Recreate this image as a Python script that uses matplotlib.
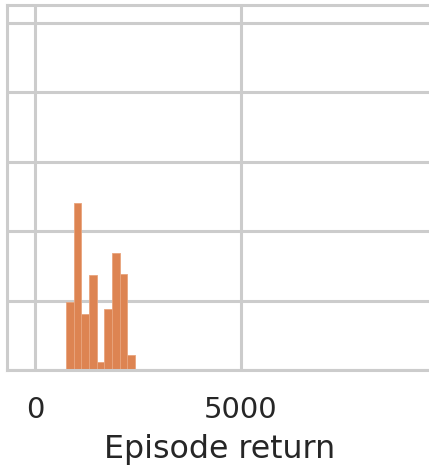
import numpy as np
import matplotlib
matplotlib.use("Agg")
import matplotlib.pyplot as plt

# histogram bins (episode return)
bin_edges = [752, 938, 1124, 1310, 1496, 1682, 1868, 2054, 2240, 2426]
heights = [0.985, 2.41, 0.81, 1.37, 0.12, 0.875, 1.69, 1.38, 0.22]
xticks = [0, 5000]
yticks = [0, 1, 2, 3, 4, 5]

fig = plt.figure(figsize=(4.29, 4.67), dpi=100)
W, H = 429, 467
left_px, right_px, top_px, bottom_px = 7, 433, 5, 370
ax = fig.add_axes([left_px / W, 1 - bottom_px / H,
                   (right_px - left_px) / W, (bottom_px - top_px) / H])

widths = np.diff(bin_edges)
ax.bar(bin_edges[:-1], heights, width=widths, align="edge",
       color="#dd8452", edgecolor="#e9a47c", linewidth=0.6, zorder=2)

ax.set_xlim(-680, 9660)
ax.set_ylim(0, 5.26)
ax.set_xticks(xticks)
ax.set_yticks(yticks)
ax.set_yticklabels([])
ax.grid(True, color="#cccccc", linewidth=2.2, zorder=0)
ax.set_axisbelow(True)
for s in ax.spines.values():
    s.set_color("#cccccc")
    s.set_linewidth(2.2)
ax.tick_params(axis="both", length=0, labelsize=21, labelcolor="#262626", pad=19)
ax.set_xlabel("Episode return", fontsize=22.8, color="#262626", labelpad=7)

fig.savefig("out.png", dpi=100)
